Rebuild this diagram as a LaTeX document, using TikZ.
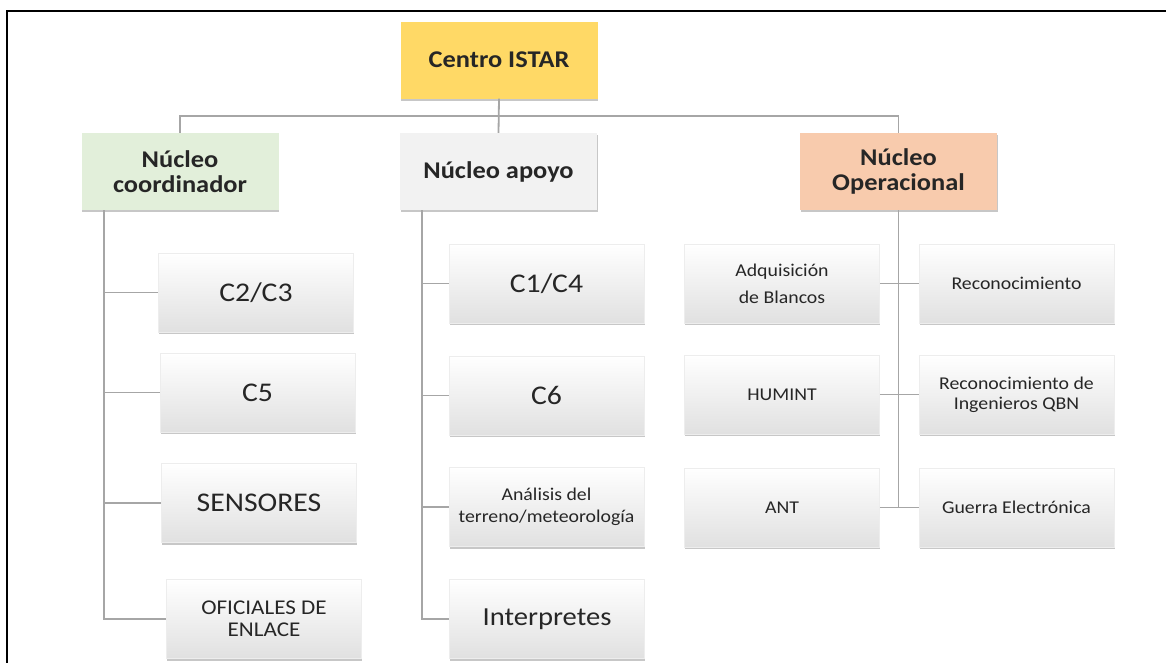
\documentclass[tikz,border=0pt]{standalone}
\usepackage{fontspec}
\setmainfont{Carlito}[FakeStretch=1.1]
\usetikzlibrary{shadows,calc}
\definecolor{gold}{HTML}{FFD966}
\definecolor{greenbox}{HTML}{E2EFDA}
\definecolor{graybox}{HTML}{F2F2F2}
\definecolor{peach}{HTML}{F8CBAD}
\definecolor{linegray}{HTML}{A6A6A6}
\definecolor{txt}{HTML}{262626}
\tikzset{
  base/.style={rectangle, inner sep=2pt, align=center, text=txt,
    drop shadow={shadow xshift=0.5pt, shadow yshift=-2pt, opacity=0.4, fill=black!55}},
  headbox/.style={base, minimum width=197pt, minimum height=77pt,
    font=\fontsize{24}{25}\selectfont\bfseries},
  childbox/.style={base, minimum width=195pt, minimum height=79pt,
    draw=black!7, line width=0.6pt, top color=white, middle color=white, bottom color=black!12},
  bigtxt/.style={font=\fontsize{27}{28}\selectfont},
  smalltxt/.style={font=\fontsize{18}{19}\selectfont},
  conn/.style={draw=linegray, line width=1.8pt},
}
\begin{document}
\begin{tikzpicture}[x=1pt,y=-1pt]
\useasboundingbox (0,0) rectangle (1166,662);
% frame
\draw[line width=2.6pt, black] (7,700) -- (7,11) -- (1200,11);

% head nodes
\node[headbox, fill=gold] (centro) at (499,60) {Centro ISTAR};
\node[headbox, fill=greenbox] (coord) at (180,171.5) {Núcleo\\coordinador};
\node[headbox, fill=graybox] (apoyo) at (498.5,171.5) {Núcleo apoyo};
\node[headbox, fill=peach] (oper) at (898.5,171.5) {Núcleo\\Operacional};

% left column
\node[childbox, bigtxt] (c23) at (256,292.5) {C2/C3};
\node[childbox, bigtxt] (c5) at (257.5,392.5) {C5};
\node[childbox, bigtxt] (sens) at (259,503) {SENSORES};
\node[childbox, font=\fontsize{21}{22}\selectfont] (ofi) at (264,619) {OFICIALES DE\\ENLACE};

% middle column
\node[childbox, bigtxt] (c14) at (546.5,283.5) {C1/C4};
\node[childbox, bigtxt] (c6) at (546.5,395.5) {C6};
\node[childbox, font=\fontsize{18}{22}\selectfont] (ana) at (546.5,507) {Análisis del\\terreno/meteorología};
\node[childbox, font=\fontsize{26}{27}\selectfont] (int) at (547,619) {Interpretes};

% right columns
\node[childbox, font=\fontsize{18}{27}\selectfont] (adq) at (782,283.5) {Adquisición\\de Blancos};
\node[childbox, smalltxt] (rec) at (1016.5,283.5) {Reconocimiento};
\node[childbox, smalltxt] (hum) at (782,394.5) {HUMINT};
\node[childbox, font=\fontsize{18}{20}\selectfont] (qbn) at (1016.5,394.5) {Reconocimiento de\\Ingenieros QBN};
\node[childbox, smalltxt] (ant) at (782,507.5) {ANT};
\node[childbox, smalltxt] (guer) at (1016.5,507.5) {Guerra Electrónica};

% connectors top
\coordinate (bus) at ($(centro.south)!0.5!(apoyo.north)$);
\draw[conn] (centro.south) -- (apoyo.north);
\draw[conn] (coord.north) |- (bus) -| (oper.north);

% left column connectors
\coordinate (lc) at ($(coord.south west)+(22.5,0)$);
\foreach \n in {c23,c5,sens,ofi} \draw[conn] (lc) |- (\n.west);
% middle column connectors
\coordinate (mc) at ($(apoyo.south west)+(22,0)$);
\foreach \n in {c14,c6,ana,int} \draw[conn] (mc) |- (\n.west);
% right connectors
\draw[conn] (oper.south) -- (oper.south |- ant.east);
\draw[conn] (adq.east) -- (rec.west);
\draw[conn] (hum.east) -- (qbn.west);
\draw[conn] (ant.east) -- (guer.west);
\end{tikzpicture}
\end{document}
